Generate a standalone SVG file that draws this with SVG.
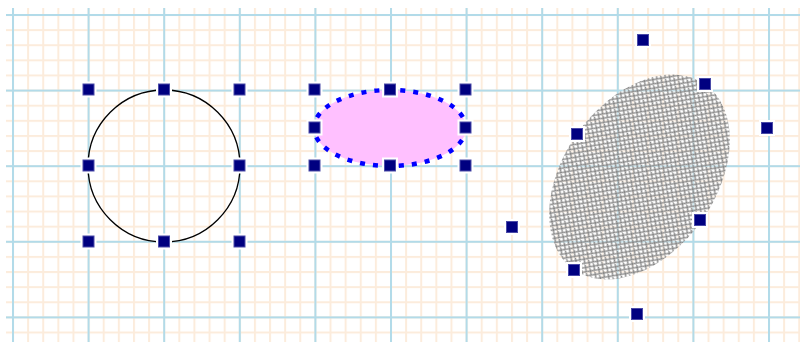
<svg xmlns="http://www.w3.org/2000/svg" width="800" height="342" viewBox="0 0 800 342">
  <defs>
    <pattern id="minor" x="12" y="14" width="15.12" height="15.12" patternUnits="userSpaceOnUse">
      <line x1="0" y1="1" x2="15.12" y2="1" stroke="#fcecdc" stroke-width="2"/>
      <line x1="1" y1="0" x2="1" y2="15.12" stroke="#fcecdc" stroke-width="2"/>
    </pattern>
    <pattern id="major" x="12" y="14" width="75.6" height="75.6" patternUnits="userSpaceOnUse">
      <line x1="0" y1="1" x2="75.6" y2="1" stroke="#b2dbe9" stroke-width="2"/>
      <line x1="1" y1="0" x2="1" y2="75.6" stroke="#b2dbe9" stroke-width="2"/>
    </pattern>
    <pattern id="hatch" x="0" y="0" width="6" height="6" patternUnits="userSpaceOnUse">
      <rect width="6" height="6" fill="#ffffff" fill-opacity="0.4"/>
      <path d="M-1,-1 L7,7 M7,-1 L-1,7 M-1,5 L1,7 M5,-1 L7,1 M-1,1 L1,-1 M5,7 L7,5" stroke="#8a8a8a" stroke-width="1.4"/>
    </pattern>
    <g id="h">
      <rect x="-8" y="-8" width="16" height="16" fill="#ffffff"/>
      <rect x="-5.5" y="-5.5" width="11" height="11" fill="#000080" stroke="#4a4aa8" stroke-width="1"/>
    </g>
  </defs>
  <rect width="800" height="342" fill="#ffffff"/>
  <g id="grid">
    <rect x="6" y="8" width="794" height="334" fill="url(#minor)"/>
    <rect x="6" y="8" width="794" height="334" fill="url(#major)"/>
  </g>
  <g id="connectors"/>
  <g id="circle-node">
    <circle cx="164" cy="166" r="76" fill="none" stroke="#000000" stroke-width="1.3"/>
    <use href="#h" x="88.5" y="89.5"/>
    <use href="#h" x="164" y="89.5"/>
    <use href="#h" x="239.5" y="89.5"/>
    <use href="#h" x="88.5" y="165.5"/>
    <use href="#h" x="239.5" y="165.5"/>
    <use href="#h" x="88.5" y="241.5"/>
    <use href="#h" x="164" y="241.5"/>
    <use href="#h" x="239.5" y="241.5"/>
  </g>
  <g id="ellipse-node">
    <ellipse cx="390" cy="128" rx="76" ry="38" fill="#ffc0ff" stroke="#0000ff" stroke-width="4.5" stroke-dasharray="5 8"/>
    <use href="#h" x="314.5" y="89.5"/>
    <use href="#h" x="390" y="89.5"/>
    <use href="#h" x="465.5" y="89.5"/>
    <use href="#h" x="314.5" y="127.5"/>
    <use href="#h" x="465.5" y="127.5"/>
    <use href="#h" x="314.5" y="165.5"/>
    <use href="#h" x="390" y="165.5"/>
    <use href="#h" x="465.5" y="165.5"/>
  </g>
  <g id="hatched-node">
    <ellipse cx="639.5" cy="177" rx="76" ry="113.5" transform="rotate(35.4 639.5 177)" fill="url(#hatch)"/>
    <use href="#h" x="643" y="40"/>
    <use href="#h" x="705" y="84"/>
    <use href="#h" x="767" y="128"/>
    <use href="#h" x="577" y="134"/>
    <use href="#h" x="700" y="220"/>
    <use href="#h" x="512" y="227"/>
    <use href="#h" x="574" y="270"/>
    <use href="#h" x="637" y="314"/>
  </g>
</svg>
